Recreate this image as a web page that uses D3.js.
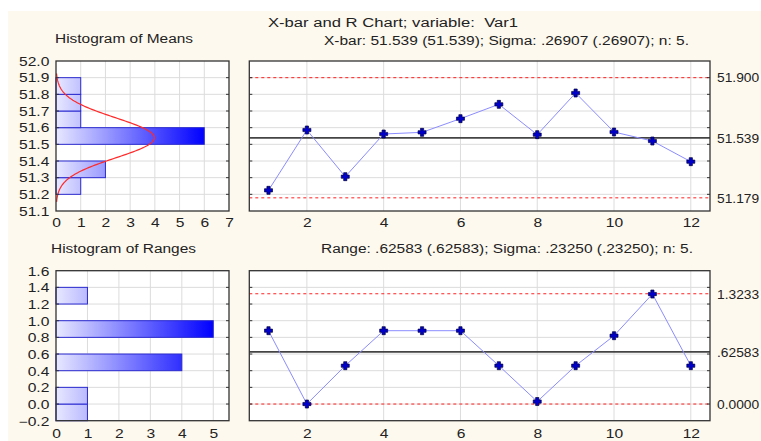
<!DOCTYPE html>
<html><head><meta charset="utf-8">
<script src="https://cdn.jsdelivr.net/npm/d3@7"></script>
<style>
html,body{margin:0;padding:0;background:#fff;}
svg{display:block;}
text{font-family:"Liberation Sans",Arial,sans-serif;fill:#222;white-space:pre;}
</style></head>
<body>
<svg id="chart" width="761" height="441"></svg>
<script>
// ---------- data ----------
const samples = [1,2,3,4,5,6,7,8,9,10,11,12];
const means   = [51.224,51.586,51.306,51.562,51.572,51.654,51.740,51.558,51.808,51.574,51.520,51.396];
const ranges  = [0.88,0.00,0.46,0.88,0.88,0.88,0.46,0.03,0.46,0.82,1.32,0.46];

const meanBinStarts = [51.2,51.3,51.4,51.5,51.6,51.7,51.8];
const meanCounts    = [1,2,0,6,1,1,1];
const rangeBinStarts = [-0.2,0.0,0.2,0.4,0.6,0.8,1.0,1.2,1.4];
const rangeCounts    = [1,1,0,4,0,5,0,1,0];

const xbarLimits = [51.179, 51.539, 51.900];   // LCL, CL, UCL
const xbarLimitLabels = ["51.179","51.539","51.900"];
const rLimits = [0.0, 0.62583, 1.3233];
const rLimitLabels = ["0.0000",".62583","1.3233"];

const meanTicks  = [51.1,51.2,51.3,51.4,51.5,51.6,51.7,51.8,51.9,52.0];
const rangeTicks = [-0.2,0.0,0.2,0.4,0.6,0.8,1.0,1.2,1.4,1.6];
const histMeanCountTicks  = [0,1,2,3,4,5,6,7];
const histRangeCountTicks = [0,1,2,3,4,5];
const sampleTicks = [2,4,6,8,10,12];

const grandMean = 51.539, sigma = 0.26907, nPerSample = 5, binWidth = 0.1;

const titleMain = "X-bar and R Chart; variable:  Var1";
const subXbar = "X-bar: 51.539 (51.539); Sigma: .26907 (.26907); n: 5.";
const subR = "Range: .62583 (.62583); Sigma: .23250 (.23250); n: 5.";
const histMeanTitle = "Histogram of Means";
const histRangeTitle = "Histogram of Ranges";

// ---------- layout ----------
const svg = d3.select("#chart");
const SX = 1.3; // horizontal text stretch of the original
svg.append("rect").attr("x",8).attr("y",11).attr("width",753).attr("height",430).attr("fill","#fef9ee");

const L = {x0:56, x1:229}, R = {x0:249.3, x1:710};
const T = {y0:61, y1:211}, B = {y0:270.7, y1:420.7};

const xHM = d3.scaleLinear().domain([0,7]).range([L.x0,L.x1]);
const yM  = d3.scaleLinear().domain([51.1,52.0]).range([T.y1,T.y0]);
const xHR = d3.scaleLinear().domain([0,5.5]).range([L.x0,L.x1]);
const yR  = d3.scaleLinear().domain([-0.2,1.6]).range([B.y1,B.y0]);
const xS  = d3.scaleLinear().domain([0.5,12.5]).range([R.x0,R.x1]);

const defs = svg.append("defs");
function grad(id, x0, x1){
  const g = defs.append("linearGradient").attr("id",id).attr("gradientUnits","userSpaceOnUse")
    .attr("x1",x0).attr("x2",x1).attr("y1",0).attr("y2",0);
  g.append("stop").attr("offset","0").attr("stop-color","#e8e8ff");
  g.append("stop").attr("offset","1").attr("stop-color","#0000ff");
}
grad("gM", xHM(0), xHM(6));
grad("gR", xHR(0), xHR(5));

function panel(x0,x1,y0,y1,xs,ys,xgrid,ygrid){
  const g = svg.append("g");
  g.append("rect").attr("x",x0).attr("y",y0).attr("width",x1-x0).attr("height",y1-y0).attr("fill","#fff");
  g.selectAll(".vg").data(xgrid).join("line")
    .attr("x1",d=>xs(d)).attr("x2",d=>xs(d)).attr("y1",y0).attr("y2",y1)
    .attr("stroke","#dcdcdc").attr("stroke-width",1);
  g.selectAll(".hg").data(ygrid).join("line")
    .attr("x1",x0).attr("x2",x1).attr("y1",d=>ys(d)).attr("y2",d=>ys(d))
    .attr("stroke","#dcdcdc").attr("stroke-width",1);
  return g;
}
function frame(x0,x1,y0,y1,ys,ygrid){
  const g = svg.append("g");
  g.selectAll(".tl").data(ygrid).join("line")
    .attr("x1",x0).attr("x2",x0+3).attr("y1",d=>ys(d)).attr("y2",d=>ys(d)).attr("stroke","#333");
  g.selectAll(".tr").data(ygrid).join("line")
    .attr("x1",x1-3).attr("x2",x1).attr("y1",d=>ys(d)).attr("y2",d=>ys(d)).attr("stroke","#333");
  g.append("rect").attr("x",x0).attr("y",y0).attr("width",x1-x0).attr("height",y1-y0)
    .attr("fill","none").attr("stroke","#333").attr("stroke-width",1.3);
}
function styleAxis(g, fn){
  g.select(".domain").remove();
  g.selectAll(".tick line").remove();
  g.selectAll("text").attr("font-size",12).attr("fill","#222").attr("font-family",null);
  fn(g.selectAll("text"));
}

// ---------- Histogram of Means ----------
panel(L.x0,L.x1,T.y0,T.y1,xHM,yM,[1,2,3,4,5,6],meanTicks.slice(1,-1));
svg.append("g").selectAll("rect").data(meanBinStarts.map((b,i)=>({b,c:meanCounts[i]})).filter(d=>d.c>0)).join("rect")
  .attr("x",xHM(0)).attr("y",d=>yM(d.b+binWidth)).attr("width",d=>xHM(d.c)-xHM(0))
  .attr("height",d=>yM(d.b)-yM(d.b+binWidth))
  .attr("fill","url(#gM)").attr("stroke","#2a2ad0").attr("stroke-width",1);
// fitted normal curve of sample means
const se = sigma/Math.sqrt(nPerSample);
const curveY = d3.range(51.155, 51.926, 0.005);
const nTot = samples.length;
svg.append("path").datum(curveY)
  .attr("d", d3.line().x(v=>xHM(nTot*binWidth*Math.exp(-0.5*((v-grandMean)/se)**2)/(se*Math.sqrt(2*Math.PI)))).y(v=>yM(v)))
  .attr("fill","none").attr("stroke","#ff2a2a").attr("stroke-width",1.2);
frame(L.x0,L.x1,T.y0,T.y1,yM,meanTicks.slice(1,-1));

svg.append("g").attr("transform",`translate(${L.x0},0)`)
  .call(d3.axisLeft(yM).tickValues(meanTicks).tickFormat(d3.format(".1f")).tickSize(0))
  .call(g=>styleAxis(g,t=>t.attr("x",-6.7/SX).attr("dy","0.36em").attr("transform",`scale(${SX},1)`)));
svg.append("g").attr("transform",`translate(0,${T.y1})`)
  .call(d3.axisBottom(xHM).tickValues(histMeanCountTicks).tickFormat(d3.format("d")).tickSize(0))
  .call(g=>styleAxis(g,t=>t.attr("y",15.7).attr("dy",0).attr("transform",`scale(${SX},1)`)));

// ---------- Histogram of Ranges ----------
panel(L.x0,L.x1,B.y0,B.y1,xHR,yR,[1,2,3,4,5],rangeTicks.slice(1,-1));
svg.append("g").selectAll("rect").data(rangeBinStarts.map((b,i)=>({b,c:rangeCounts[i]})).filter(d=>d.c>0)).join("rect")
  .attr("x",xHR(0)).attr("y",d=>yR(d.b+0.2)).attr("width",d=>xHR(d.c)-xHR(0))
  .attr("height",d=>yR(d.b)-yR(d.b+0.2))
  .attr("fill","url(#gR)").attr("stroke","#2a2ad0").attr("stroke-width",1);
frame(L.x0,L.x1,B.y0,B.y1,yR,rangeTicks.slice(1,-1));
svg.append("g").attr("transform",`translate(${L.x0},0)`)
  .call(d3.axisLeft(yR).tickValues(rangeTicks).tickFormat(d3.format(".1f")).tickSize(0))
  .call(g=>styleAxis(g,t=>t.attr("x",-6.7/SX).attr("dy","0.36em").attr("transform",`scale(${SX},1)`)));
svg.append("g").attr("transform",`translate(0,${B.y1})`)
  .call(d3.axisBottom(xHR).tickValues(histRangeCountTicks).tickFormat(d3.format("d")).tickSize(0))
  .call(g=>styleAxis(g,t=>t.attr("y",17).attr("dy",0).attr("transform",`scale(${SX},1)`)));

// ---------- control charts ----------
const plus = "M-1.6,-4H1.6V-1.6H4V1.6H1.6V4H-1.6V1.6H-4V-1.6H-1.6Z";
const SXR = 1.15;
function controlChart(y0,y1,ys,vals,limits,labels,ygrid,labelBase){
  panel(R.x0,R.x1,y0,y1,xS,ys,sampleTicks,ygrid);
  const g = svg.append("g");
  g.selectAll(".lim").data([limits[0],limits[2]]).join("line")
    .attr("x1",R.x0).attr("x2",R.x1).attr("y1",d=>ys(d)).attr("y2",d=>ys(d))
    .attr("stroke","#ff2020").attr("stroke-width",1).attr("stroke-dasharray","3,3");
  g.append("line").attr("x1",R.x0).attr("x2",R.x1).attr("y1",ys(limits[1])).attr("y2",ys(limits[1]))
    .attr("stroke","#444").attr("stroke-width",1.6);
  g.append("path").datum(vals)
    .attr("d", d3.line().x((v,i)=>xS(samples[i])).y(v=>ys(v)))
    .attr("fill","none").attr("stroke","#8c8cff").attr("stroke-width",1);
  g.selectAll(".pt").data(vals).join("path")
    .attr("d",plus).attr("transform",(v,i)=>`translate(${xS(samples[i])},${ys(v)})`)
    .attr("fill","#0000c8").attr("stroke","#000040").attr("stroke-width",0.7);
  frame(R.x0,R.x1,y0,y1,ys,ygrid);
  svg.append("g").attr("transform",`translate(${R.x1},0)`)
    .call(d3.axisRight(ys).tickValues(limits).tickFormat((d,i)=>labels[i]).tickSize(0))
    .call(g=>styleAxis(g,t=>t.attr("x",7/SXR).attr("dy","0.36em").attr("text-anchor","start").attr("transform",`scale(${SXR},1)`)));
  svg.append("g").attr("transform",`translate(0,${y1})`)
    .call(d3.axisBottom(xS).tickValues(sampleTicks).tickFormat(d3.format("d")).tickSize(0))
    .call(g=>styleAxis(g,t=>t.attr("y",labelBase).attr("dy",0).attr("transform",`scale(${SX},1)`)));
}
controlChart(T.y0,T.y1,yM,means,xbarLimits,xbarLimitLabels,meanTicks.slice(1,-1),15.7);
controlChart(B.y0,B.y1,yR,ranges,rLimits,rLimitLabels,rangeTicks.slice(1,-1),17);

// ---------- titles ----------
function title(txt,x0,x1,base){
  svg.append("text").attr("x",x0).attr("y",base).attr("font-size",12)
    .attr("textLength",x1-x0).attr("lengthAdjust","spacingAndGlyphs").text(txt);
}
title(titleMain,268,518,26.7);
title(subXbar,324,689,44.5);
title(histMeanTitle,55,193,43.3);
title(histRangeTitle,51,196,252.5);
title(subR,321,693,253.3);
</script>
</body></html>
